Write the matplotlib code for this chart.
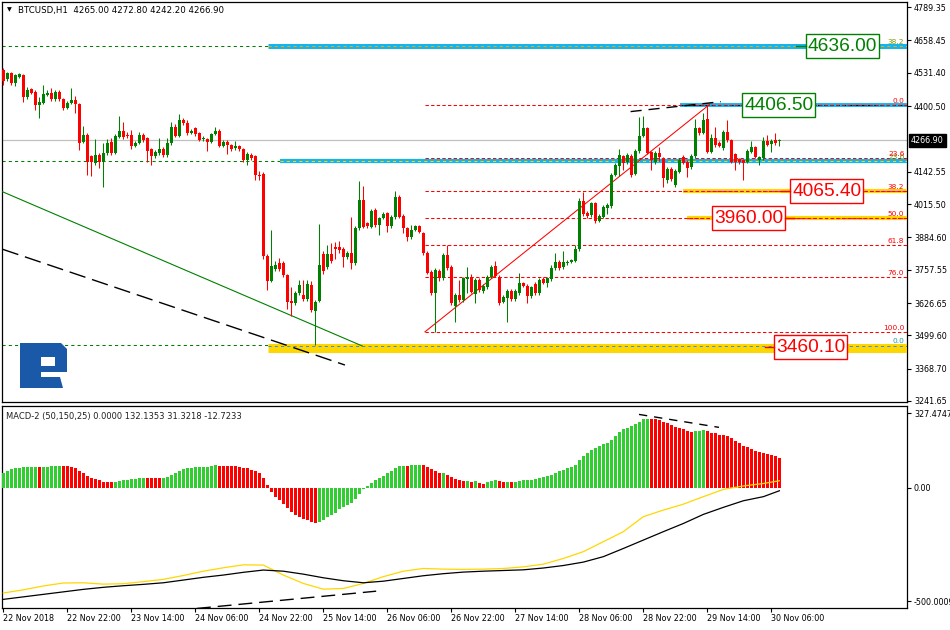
import numpy as np
import matplotlib.pyplot as plt
from matplotlib.patches import Polygon, Rectangle

# ---- price data (BTCUSD H1) ----
opens = [4542, 4506, 4529, 4490, 4516, 4523, 4435, 4466, 4457, 4405,
         4414, 4445, 4451, 4427, 4457, 4427, 4392, 4411, 4424, 4409,
         4261, 4287, 4204, 4176, 4208, 4182, 4215, 4261, 4218, 4280,
         4304, 4287, 4287, 4244, 4254, 4287, 4274, 4231, 4204, 4215,
         4231, 4208, 4254, 4320, 4283, 4346, 4335, 4296, 4313, 4296,
         4270, 4270, 4261, 4291, 4304, 4244, 4261, 4248, 4235, 4244,
         4231, 4189, 4208, 4205, 4130, 4134, 3811, 3715, 3759, 3785,
         3783, 3737, 3636, 3628, 3665, 3658, 3641, 3698, 3597, 3636,
         3819, 3767, 3819, 3846, 3846, 3838, 3809, 3822, 3785, 3920,
         4032, 3940, 3927, 3992, 3933, 3960, 3979, 3929, 3963, 4042,
         3969, 3920, 3885, 3914, 3929, 3901, 3822, 3750, 3667, 3752,
         3724, 3815, 3770, 3615, 3658, 3639, 3720, 3730, 3662, 3717,
         3675, 3688, 3730, 3772, 3730, 3632, 3645, 3675, 3641, 3667,
         3704, 3694, 3654, 3701, 3667, 3720, 3707, 3720, 3763, 3789,
         3767, 3783, 3789, 3793, 3838, 4028, 3982, 3972, 4018, 3950,
         3966, 3999, 4008, 4130, 4165, 4205, 4182, 4205, 4135, 4225,
         4283, 4313, 4221, 4182, 4218, 4195, 4110, 4152, 4090, 4143,
         4202, 4182, 4160, 4205, 4313, 4296, 4349, 4222, 4275, 4257,
         4235, 4300, 4267, 4212, 4191, 4189, 4182, 4222, 4241, 4189,
         4195, 4265, 4252, 4267, 4265]
highs = [4549, 4535, 4535, 4528, 4530, 4528, 4476, 4472, 4462, 4437,
         4482, 4462, 4470, 4465, 4462, 4432, 4420, 4470, 4440, 4413,
         4322, 4295, 4210, 4270, 4215, 4254, 4270, 4275, 4290, 4362,
         4339, 4300, 4306, 4265, 4298, 4295, 4280, 4236, 4228, 4274,
         4240, 4274, 4339, 4330, 4370, 4355, 4345, 4310, 4318, 4300,
         4285, 4275, 4296, 4320, 4310, 4266, 4266, 4252, 4265, 4248,
         4236, 4220, 4215, 4210, 4146, 4140, 3818, 3914, 3790, 3805,
         3790, 3742, 3691, 3672, 3716, 3717, 3716, 3712, 3640, 3937,
         3830, 3855, 3861, 3865, 3871, 3845, 3830, 3966, 3930, 4108,
         4087, 3945, 3995, 4000, 3966, 3985, 3985, 3972, 4068, 4050,
         3975, 3925, 3935, 3935, 3935, 3905, 3830, 3755, 3765, 3760,
         3822, 3855, 3775, 3665, 3717, 3730, 3767, 3740, 3725, 3725,
         3700, 3738, 3778, 3793, 3735, 3660, 3682, 3680, 3680, 3743,
         3710, 3700, 3695, 3708, 3725, 3728, 3730, 3775, 3822, 3795,
         3832, 3795, 3800, 3855, 4038, 4064, 3990, 4025, 4025, 3975,
         4012, 4020, 4138, 4178, 4231, 4208, 4215, 4212, 4232, 4359,
         4362, 4320, 4225, 4225, 4240, 4200, 4160, 4160, 4152, 4195,
         4210, 4188, 4212, 4348, 4320, 4372, 4406, 4290, 4320, 4262,
         4308, 4346, 4272, 4218, 4196, 4192, 4232, 4265, 4245, 4205,
         4280, 4287, 4270, 4294, 4273]
lows = [4484, 4500, 4485, 4480, 4512, 4418, 4430, 4448, 4385, 4352,
        4410, 4440, 4420, 4422, 4420, 4385, 4388, 4408, 4375, 4230,
        4255, 4130, 4126, 4170, 4156, 4084, 4210, 4210, 4212, 4275,
        4272, 4275, 4232, 4240, 4250, 4260, 4182, 4169, 4198, 4210,
        4200, 4202, 4248, 4278, 4278, 4328, 4288, 4292, 4285, 4262,
        4265, 4225, 4256, 4288, 4238, 4238, 4212, 4225, 4230, 4226,
        4182, 4169, 4190, 4110, 4110, 3800, 3678, 3708, 3752, 3754,
        3730, 3602, 3576, 3620, 3660, 3636, 3636, 3592, 3460, 3630,
        3740, 3760, 3785, 3800, 3822, 3770, 3800, 3760, 3775, 3912,
        3920, 3920, 3920, 3925, 3895, 3955, 3905, 3920, 3958, 3960,
        3900, 3870, 3878, 3910, 3900, 3815, 3740, 3660, 3513, 3715,
        3718, 3755, 3620, 3553, 3632, 3632, 3665, 3665, 3628, 3670,
        3668, 3682, 3725, 3728, 3620, 3626, 3553, 3636, 3636, 3660,
        3688, 3628, 3648, 3660, 3660, 3700, 3690, 3715, 3758, 3758,
        3760, 3775, 3785, 3788, 3830, 3970, 3962, 3966, 3940, 3945,
        3960, 3976, 4000, 4125, 4125, 4149, 4175, 4122, 4130, 4218,
        4278, 4212, 4149, 4175, 4185, 4084, 4100, 4106, 4081, 4138,
        4172, 4121, 4154, 4198, 4288, 4290, 4215, 4215, 4240, 4238,
        4230, 4260, 4176, 4149, 4175, 4110, 4176, 4215, 4195, 4169,
        4190, 4242, 4222, 4248, 4242]
closes = [4501, 4529, 4490, 4523, 4525, 4435, 4464, 4453, 4405, 4418,
          4448, 4453, 4427, 4456, 4427, 4392, 4414, 4424, 4409, 4257,
          4287, 4182, 4182, 4208, 4182, 4215, 4254, 4218, 4283, 4304,
          4280, 4283, 4244, 4257, 4287, 4267, 4225, 4204, 4222, 4231,
          4208, 4257, 4320, 4283, 4346, 4333, 4294, 4304, 4291, 4267,
          4277, 4261, 4291, 4304, 4244, 4261, 4248, 4231, 4244, 4231,
          4189, 4212, 4195, 4130, 4126, 3811, 3715, 3772, 3776, 3759,
          3737, 3632, 3628, 3665, 3698, 3641, 3701, 3599, 3632, 3776,
          3754, 3819, 3793, 3840, 3835, 3809, 3822, 3785, 3920, 4032,
          3927, 3929, 3988, 3933, 3960, 3977, 3929, 3966, 4042, 3966,
          3920, 3885, 3914, 3929, 3907, 3822, 3746, 3667, 3756, 3724,
          3815, 3763, 3626, 3658, 3639, 3724, 3728, 3671, 3717, 3678,
          3694, 3730, 3770, 3733, 3628, 3652, 3675, 3641, 3674, 3704,
          3694, 3654, 3688, 3667, 3717, 3707, 3724, 3763, 3789, 3763,
          3789, 3789, 3796, 3838, 4028, 3977, 3969, 4018, 3950, 3969,
          4005, 4012, 4130, 4169, 4208, 4178, 4208, 4130, 4225, 4283,
          4313, 4218, 4189, 4218, 4200, 4117, 4152, 4113, 4147, 4189,
          4178, 4156, 4205, 4313, 4294, 4346, 4222, 4275, 4248, 4244,
          4300, 4267, 4182, 4182, 4182, 4178, 4225, 4241, 4200, 4202,
          4265, 4248, 4265, 4254, 4267]

# ---- MACD-2 (50,150,25) ----
hist = [66, 75, 81, 85, 88, 90, 91, 92, 93, 90,
        91, 93, 94, 95, 96, 95, 94, 93, 85, 75,
        63, 51, 41, 37, 33, 27, 26, 25, 26, 30,
        33, 36, 37, 38, 41, 45, 44, 43, 42, 41,
        43, 48, 56, 66, 75, 81, 85, 89, 90, 91,
        92, 93, 95, 99, 98, 97, 96, 95, 94, 92,
        89, 85, 78, 75, 63, 41, 12, -18, -40, -54,
        -72, -91, -106, -120, -130, -139, -142, -150, -157, -150,
        -140, -128, -120, -110, -95, -84, -76, -66, -51, -28,
        -7, 7, 22, 34, 43, 54, 63, 75, 85, 95,
        98, 97, 99, 100, 102, 100, 90, 81, 72, 63,
        64, 57, 48, 40, 34, 28, 29, 27, 28, 19,
        18, 26, 31, 34, 29, 25, 26, 25, 27, 31,
        34, 35, 36, 39, 43, 47, 51, 57, 66, 73,
        78, 87, 92, 100, 122, 139, 154, 166, 173, 183,
        192, 198, 212, 227, 245, 257, 263, 271, 280, 289,
        302, 303, 302, 301, 300, 290, 285, 277, 268, 262,
        257, 249, 245, 248, 249, 254, 248, 243, 239, 233,
        232, 227, 218, 207, 198, 186, 180, 171, 163, 158,
        154, 148, 145, 141, 132]
line_idx = list(range(0, 195, 5)) + [194]
macd_yellow = [-463, -449, -432, -419, -418, -424, -422, -413, -403, -386,
               -367, -352, -339, -340, -384, -421, -446, -443, -421, -391,
               -367, -355, -358, -359, -358, -355, -348, -336, -311, -281,
               -237, -193, -127, -98, -72, -39, -7, 8, 19, 31]
macd_black = [-491, -480, -469, -458, -447, -438, -431, -425, -418, -406,
              -394, -384, -372, -362, -367, -380, -396, -409, -418, -411,
              -399, -387, -378, -371, -367, -364, -361, -353, -342, -327,
              -303, -267, -230, -193, -157, -117, -86, -57, -39, -13]

# ---- axis labels ----
price_ticks = [4789.35, 4658.45, 4531.40, 4400.50, 4142.55, 4015.50, 3884.60,
               3757.55, 3626.65, 3499.60, 3368.70, 3241.65]
last_price = 4266.90
macd_ticks = [327.4747, 0.0, -500.0009]
macd_tick_labels = ['327.4747', '0.00', '-500.0009']
time_idx = [0, 16, 32, 48, 64, 80, 96, 112, 128, 144, 160, 176, 192]
time_labels = ['22 Nov 2018', '22 Nov 22:00', '23 Nov 14:00', '24 Nov 06:00',
               '24 Nov 22:00', '25 Nov 14:00', '26 Nov 06:00', '26 Nov 22:00',
               '27 Nov 14:00', '28 Nov 06:00', '28 Nov 22:00', '29 Nov 14:00',
               '30 Nov 06:00']

# ---- analysis objects ----
fib_levels = [0.0, 23.6, 38.2, 50.0, 61.8, 76.0, 100.0]
fib_high, fib_low, fib_start = 4406.5, 3513.5, 105.4
gfib_base, gfib_range = 3460.1, 3078.3
gfib_levels = [0.0, 23.6, 38.2]
blue_bands = [4636.0, 4186.6, 4406.5]
blue_start = [66.2, 69.2, 169.2]
yellow_bands = [3451.0, 4065.4, 3960.0]
yellow_start = [66.2, 169.9, 170.9]
box_text = ['4636.00', '4406.50', '4065.40', '3960.00', '3460.10']
box_x = [209.8, 193.9, 205.9, 186.25, 201.85]
box_y = [4636.0, 4406.5, 4065.4, 3960.0, 3452.0]
box_stub = [-1, 0, -1, 1, -1]
green_tl = ([-0.2, 89.7], [4064, 3458])
black_tl = ([-0.2, 85.4], [3838, 3383])
price_div = ([156.8, 179.4], [4379, 4418])
fib_diag = ([105.4, 176.5], [3513.5, 4406.5])
macd_div_top = ([158.9, 178.9], [323, 266])
macd_div_bot = ([48.4, 93.2], [-531, -455])

W, H = 950, 630
def fx(px):
    return px / W
def fy(py):
    return 1 - py / H

GREEN = '#008000'
RED = '#ff0000'
plt.rcParams['font.family'] = ['DejaVu Sans']

fig = plt.figure(figsize=(9.5, 6.3), dpi=100)
ax = fig.add_axes([fx(2), fy(402), fx(907) - fx(2), fy(2) - fy(402)])
ax2 = fig.add_axes([fx(2), fy(608), fx(907) - fx(2), fy(406) - fy(608)])
xmin, xmax = -0.33, 225.9
for a in (ax, ax2):
    a.set_xlim(xmin, xmax)
    for s in a.spines.values():
        s.set_linewidth(0.9)
        s.set_color('black')
ax.set_ylim(3237.7, 4809.7)
ax2.set_ylim(-529, 360)

# pixel -> data sizes (4 px per bar, 3.93 price per px)
bar_px = 4.0
price_px = 3.93

# candles
n = len(closes)
x = np.arange(n)
o = np.array(opens, float)
c = np.array(closes, float)
cols = np.where(c >= o, GREEN, RED)
ax.vlines(x, lows, highs, colors=cols, lw=0.75, zorder=6)
ax.bar(x, np.maximum(np.abs(c - o), 2.5), bottom=np.minimum(o, c), width=0.7,
       color=cols, linewidth=0, zorder=7)

# current price line
ax.axhline(last_price, color='#c0c0c0', lw=0.9, zorder=1)

# green fibo (left)
for lv in gfib_levels:
    p = gfib_base + gfib_range * lv / 100
    ax.hlines(p, xmin, xmax, colors=GREEN, linestyles=(0, (3, 3)), lw=0.75, zorder=2)
gcols = ['#1fa0a0', '#7a9a01', '#7a9a01']
for lv, gc in zip(gfib_levels, gcols):
    p = gfib_base + gfib_range * lv / 100
    ax.text(0.997, p + 4, f'{lv:.1f}', color=gc, fontsize=5.3, ha='right', va='bottom',
            transform=ax.get_yaxis_transform(), zorder=9)

# blue and yellow bands
blue_lw = [3.6, 3.0, 2.8]
blue_dash = ['#ffa500', '#ffd700', 'black']
for p, s, lw, dc in zip(blue_bands, blue_start, blue_lw, blue_dash):
    ax.hlines(p, s, xmax, colors='#13b5ef', lw=lw, zorder=3)
    ax.hlines(p, s, xmax, colors=dc, linestyles=(0, (3, 3)), lw=0.75, zorder=4)
yel_lw = [6.5, 3.0, 3.0]
yel_dash = ['#3a8ff0', '#ff00ff', '#ff00ff']
for p, s, lw, dc in zip(yellow_bands, yellow_start, yel_lw, yel_dash):
    ax.hlines(p, s, xmax, colors='#ffd700', lw=lw, zorder=3)
    ax.hlines(p + (7 if lw > 5 else 0), s, xmax, colors=dc, linestyles=(0, (3, 3)),
              lw=0.75, zorder=4)

# red fibo
for lv in fib_levels:
    p = fib_high - (fib_high - fib_low) * lv / 100
    ax.hlines(p, fib_start, xmax, colors=RED, linestyles=(0, (3.2, 2.2)), lw=0.75, zorder=5)
    ax.text(0.997, p + 4, f'{lv:.1f}', color=RED, fontsize=5.3, ha='right', va='bottom',
            transform=ax.get_yaxis_transform(), zorder=9)
ax.plot(*fib_diag, color=RED, lw=0.75, zorder=5)

# trend lines
ax.plot(*green_tl, color=GREEN, lw=0.8, zorder=5)
ax.plot(*black_tl, color='black', lw=1.0, dashes=(12, 5), zorder=5)
ax.plot(*price_div, color='black', lw=1.0, dashes=(8, 5), zorder=8)

# price labels in boxes (73 x 24 px)
box_col = [GREEN, GREEN, RED, RED, RED]
bw = 73 / bar_px
bh = 24 * price_px
for t, bx, by, bc, st in zip(box_text, box_x, box_y, box_col, box_stub):
    ax.add_patch(Rectangle((bx - bw / 2, by - bh / 2), bw, bh, fc='white', ec=bc,
                           lw=1.0, zorder=10))
    ax.text(bx, by - 2, t, color=bc, fontsize=13.8, family=['Liberation Sans'],
            ha='center', va='center', zorder=11)
    if st:
        x0 = bx + st * bw / 2
        ax.plot([x0, x0 + st * 2.4], [by, by], color=bc, lw=1.0, zorder=10)

# right price axis
ax.set_xticks([])
ax.yaxis.tick_right()
ax.set_yticks(price_ticks)
ax.set_yticklabels([f'{v:.2f}' for v in price_ticks])
ax.tick_params(axis='y', direction='out', length=3, width=0.8, labelsize=5.8, pad=2)
ax.text(1.0045, last_price, f'{last_price:.2f}', color='white', fontsize=5.8,
        ha='left', va='center', transform=ax.get_yaxis_transform(),
        bbox=dict(boxstyle='square,pad=0.25', fc='black', ec='black'))

# MACD histogram
hcols = []
for k, v in enumerate(hist):
    if k == 0 or v > hist[k - 1]:
        hcols.append('#32cd32')
    elif v < hist[k - 1]:
        hcols.append(RED)
    else:
        hcols.append(hcols[-1])
ax2.bar(np.arange(len(hist)), hist, width=0.75, color=hcols, linewidth=0, zorder=3)
ax2.plot(line_idx, macd_yellow, color='#ffd700', lw=0.9, zorder=4)
ax2.plot(line_idx, macd_black, color='black', lw=0.9, zorder=4)
ax2.plot(*macd_div_top, color='black', lw=1.0, dashes=(6, 5), zorder=5)
ax2.plot(*macd_div_bot, color='black', lw=1.0, dashes=(10, 5), zorder=5)

ax2.yaxis.tick_right()
ax2.set_yticks(macd_ticks)
ax2.set_yticklabels(macd_tick_labels)
ax2.tick_params(axis='y', direction='out', length=3, width=0.8, labelsize=5.8, pad=2)
ax2.set_xticks(time_idx)
ax2.set_xticklabels(time_labels)
ax2.tick_params(axis='x', direction='out', length=3, width=0.8, labelsize=5.8, pad=1.5)
for lbl in ax2.get_xticklabels():
    lbl.set_ha('left')

# headers
fig.text(fx(7), fy(10), '\u25bc', fontsize=4.5, va='center', ha='left')
fig.text(fx(18), fy(10), 'BTCUSD,H1  4265.00 4272.80 4242.20 4266.90', fontsize=6.2,
         va='center', ha='left')
fig.text(fx(6), fy(417), 'MACD-2 (50,150,25) 0.0000 132.1353 31.3218 -12.7233',
         fontsize=6.0, va='center', ha='left', color='#202020')

# logo
logo_parts = [
    [(20, 343), (41, 343), (41, 388), (20, 388)],
    [(41, 343), (61, 343), (67, 349), (67, 357), (41, 357)],
    [(55, 357), (67, 357), (67, 372), (55, 372)],
    [(41, 366), (55, 366), (55, 372), (41, 372)],
    [(41, 377), (60, 377), (63, 388), (41, 388)],
]
for part in logo_parts:
    fig.patches.append(Polygon([(fx(px), fy(py)) for px, py in part], closed=True,
                               transform=fig.transFigure, fc='#1a58a8', ec='none', zorder=20))

fig.savefig('out.png', dpi=100)
